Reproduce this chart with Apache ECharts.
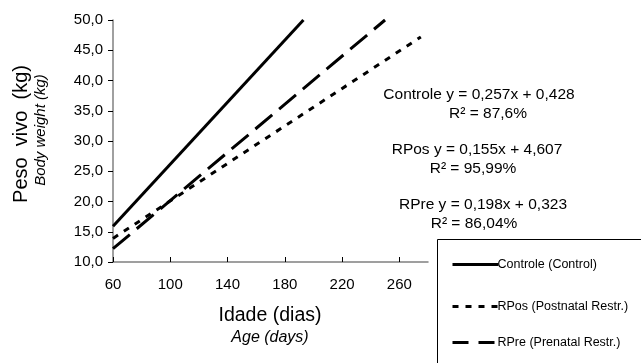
<!DOCTYPE html>
<html>
<head>
<meta charset="utf-8">
<script src="https://cdn.jsdelivr.net/npm/echarts@6/dist/echarts.min.js"></script>
<style>
  html, body { margin: 0; padding: 0; background: #fff; }
  #chart { width: 641px; height: 363px; }
</style>
</head>
<body>
<div id="chart"></div>
<script>
// fitted lines, start and end points (clipped at 50 kg)
const controleX = [60, 193];
const controleY = [15.9, 50];
const rposX = [60, 275];
const rposY = [13.9, 47.2];
const rpreX = [60, 250];
const rpreY = [12.2, 50];

const seriesNames = ["Controle (Control)", "RPos (Postnatal Restr.)", "RPre (Prenatal Restr.)"];
const equations = [
  "Controle y = 0,257x + 0,428", "R² = 87,6%",
  "RPos y = 0,155x + 4,607", "R² = 95,99%",
  "RPre y = 0,198x + 0,323", "R² = 86,04%"
];

const FONT = "Liberation Sans, Arial, sans-serif";
const pairs = (xs, ys) => xs.map((x, i) => [x, ys[i]]);

const chart = echarts.init(document.getElementById("chart"));

function lineSeries(name, xs, ys, type) {
  return {
    name: name,
    type: "line",
    data: pairs(xs, ys),
    symbol: "none",
    silent: true,
    animation: false,
    lineStyle: { color: "#000", width: 3, type: type, cap: "butt" },
    itemStyle: { color: "#000" }
  };
}

function legendAt(name, top, dash) {
  return {
    data: [name],
    left: 446,
    top: top,
    itemWidth: 46,
    itemHeight: 12,
    itemGap: 0,
    selectedMode: false,
    itemStyle: { color: "rgba(0,0,0,0)", borderWidth: 0, opacity: 0 },
    lineStyle: { color: "#000", width: 3, type: dash, cap: "butt" },
    textStyle: { fontFamily: FONT, fontSize: 12.5, color: "#000", padding: [0, 0, 0, -6] }
  };
}

const eqTexts = [
  { t: equations[0], x: 479, y: 95 },
  { t: equations[1], x: 488, y: 114 },
  { t: equations[2], x: 477, y: 150 },
  { t: equations[3], x: 473, y: 169 },
  { t: equations[4], x: 483, y: 205 },
  { t: equations[5], x: 474, y: 224 }
];

const option = {
  animation: false,
  grid: { left: 113, right: 213, top: 20, bottom: 101 },
  xAxis: {
    type: "value",
    min: 60,
    max: 280,
    interval: 40,
    axisLine: { lineStyle: { color: "#808080", width: 1.5 } },
    axisTick: { inside: true, length: 5, lineStyle: { color: "#000" } },
    axisLabel: {
      color: "#000", fontFamily: FONT, fontSize: 15, margin: 15,
      showMaxLabel: false
    },
    splitLine: { show: false }
  },
  yAxis: {
    type: "value",
    min: 10,
    max: 50,
    interval: 5,
    axisLine: { show: true, lineStyle: { color: "#808080", width: 1.5 } },
    axisTick: { show: true, length: 5, lineStyle: { color: "#000" } },
    axisLabel: {
      color: "#000", fontFamily: FONT, fontSize: 15, margin: 10,
      formatter: v => v.toFixed(1).replace(".", ",")
    },
    splitLine: { show: false }
  },
  legend: [
    legendAt(seriesNames[0], 253, "solid"),
    legendAt(seriesNames[1], 295, [6, 7]),
    legendAt(seriesNames[2], 331, [16, 10])
  ],
  series: [
    lineSeries(seriesNames[0], controleX, controleY, "solid"),
    lineSeries(seriesNames[1], rposX, rposY, [6, 7]),
    lineSeries(seriesNames[2], rpreX, rpreY, [22, 9])
  ],
  graphic: [
    {
      type: "rect", silent: true, z: 0,
      shape: { x: 437.5, y: 239.5, width: 220, height: 140 },
      style: { fill: "#fff", stroke: "#000", lineWidth: 1 }
    },
    {
      type: "text", x: 21, y: 134, rotation: Math.PI / 2, silent: true,
      style: { text: "Peso  vivo  (kg)", font: "20px " + FONT, fill: "#000", align: "center", verticalAlign: "middle" }
    },
    {
      type: "text", x: 41, y: 130, rotation: Math.PI / 2, silent: true,
      style: { text: "Body weight (kg)", font: "italic 15px " + FONT, fill: "#000", align: "center", verticalAlign: "middle" }
    },
    {
      type: "text", x: 270, y: 316, silent: true,
      style: { text: "Idade (dias)", font: "19.5px " + FONT, fill: "#000", align: "center", verticalAlign: "middle" }
    },
    {
      type: "text", x: 270, y: 338, silent: true,
      style: { text: "Age (days)", font: "italic 16px " + FONT, fill: "#000", align: "center", verticalAlign: "middle" }
    }
  ].concat(eqTexts.map(e => ({
    type: "text", x: e.x, y: e.y, silent: true,
    style: { text: e.t, font: "15.5px " + FONT, fill: "#000", align: "center", verticalAlign: "middle" }
  })))
};

chart.setOption(option);
</script>
</body>
</html>
